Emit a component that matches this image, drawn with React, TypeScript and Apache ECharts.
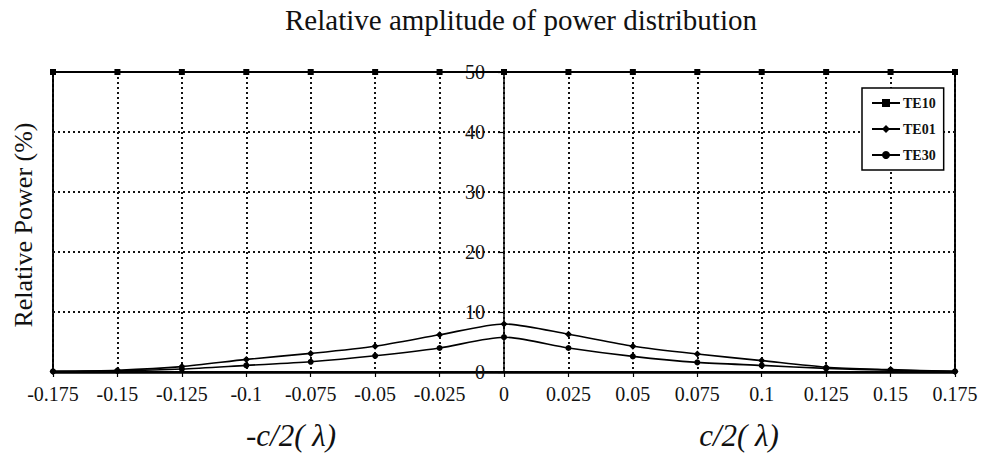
import React, { useEffect, useRef } from "react";
import * as echarts from "echarts";

const xValues = [-0.175, -0.15, -0.125, -0.1, -0.075, -0.05, -0.025, 0, 0.025, 0.05, 0.075, 0.1, 0.125, 0.15, 0.175];
const te10 = [50, 50, 50, 50, 50, 50, 50, 50, 50, 50, 50, 50, 50, 50, 50];
const te01 = [0.1, 0.3, 0.9, 2.1, 3.1, 4.3, 6.2, 8.0, 6.3, 4.3, 3.0, 1.9, 0.8, 0.4, 0.1];
const te30 = [0.1, 0.2, 0.5, 1.1, 1.7, 2.7, 4.0, 5.8, 4.0, 2.6, 1.6, 1.1, 0.6, 0.3, 0.1];
const seriesNames = ["TE10", "TE01", "TE30"];

const SERIF = "'Liberation Serif', 'Times New Roman', serif";

export default function App() {
  const ref = useRef<HTMLDivElement>(null);
  useEffect(() => {
    if (!ref.current) return;
    const chart = echarts.init(ref.current, null, { renderer: "svg" });
    const pair = (ys: number[]) => xValues.map((x, i) => [x, ys[i]]);
    const fmt = (v: number) => {
      const r = Math.round(v * 1000) / 1000;
      return String(r);
    };
    const lineStyle = { color: "#000", width: 1.6 };
    chart.setOption({
      animation: false,
      backgroundColor: "#fff",
      title: {
        text: "Relative amplitude of power distribution",
        left: 280,
        top: 0,
        textStyle: { fontFamily: SERIF, fontSize: 29, fontWeight: "normal", color: "#111" },
      },
      legend: {
        orient: "vertical",
        left: 862,
        top: 88,
        padding: [8, 8, 8, 9],
        itemGap: 12,
        itemWidth: 28,
        itemHeight: 10,
        borderColor: "#000",
        borderWidth: 1.5,
        backgroundColor: "#fff",
        data: seriesNames,
        textStyle: { fontFamily: SERIF, fontSize: 14, fontWeight: "bold", color: "#111", padding: [0, 0, 0, -2] },
      },
      grid: {
        left: 53,
        right: 30,
        top: 72,
        bottom: 81,
        show: true,
        borderColor: "#000",
        borderWidth: 2,
      },
      xAxis: {
        type: "value",
        min: -0.175,
        max: 0.175,
        interval: 0.025,
        axisLine: { show: true, onZero: false, lineStyle: { color: "#000", width: 2.5 } },
        axisTick: { show: true, length: 5, lineStyle: { color: "#000", width: 1.2 } },
        axisLabel: { fontFamily: SERIF, fontSize: 20, color: "#111", margin: 12, formatter: fmt, showMinLabel: true, showMaxLabel: true },
        splitLine: { show: true, lineStyle: { color: "#111", width: 2, type: [2, 3] } },
      },
      yAxis: {
        type: "value",
        min: 0,
        max: 50,
        interval: 10,
        position: "left",
        offset: -451,
        axisLine: { show: true, onZero: false, lineStyle: { color: "#000", width: 1.5 } },
        axisTick: { show: true, length: 6, lineStyle: { color: "#000", width: 1.2 } },
        axisLabel: { fontFamily: SERIF, fontSize: 20, color: "#111", margin: 19 },
        splitLine: { show: true, lineStyle: { color: "#111", width: 2, type: [2, 3] } },
      },
      series: [
        {
          name: "TE10",
          type: "line",
          data: pair(te10),
          symbol: "rect",
          symbolSize: 6,
          itemStyle: { color: "#000" },
          lineStyle: { color: "#000", width: 2.2 },
          z: 5,
        },
        {
          name: "TE01",
          type: "line",
          data: pair(te01),
          symbol: "diamond",
          symbolSize: 7,
          smooth: 0.25,
          itemStyle: { color: "#000" },
          lineStyle,
          z: 5,
        },
        {
          name: "TE30",
          type: "line",
          data: pair(te30),
          symbol: "circle",
          symbolSize: 6,
          smooth: 0.25,
          itemStyle: { color: "#000" },
          lineStyle,
          z: 5,
        },
      ],
      graphic: [
        {
          type: "text",
          x: 23,
          y: 225,
          rotation: Math.PI / 2,
          style: {
            text: "Relative Power (%)",
            fontFamily: SERIF,
            fontSize: 26,
            fill: "#111",
            align: "center",
            verticalAlign: "middle",
          },
        },
        {
          type: "text",
          x: 291,
          y: 435,
          style: {
            text: "-c/2( \u03bb)",
            fontFamily: SERIF,
            fontSize: 31,
            fontStyle: "italic",
            fill: "#111",
            align: "center",
            verticalAlign: "middle",
          },
        },
        {
          type: "text",
          x: 739,
          y: 435,
          style: {
            text: "c/2( \u03bb)",
            fontFamily: SERIF,
            fontSize: 31,
            fontStyle: "italic",
            fill: "#111",
            align: "center",
            verticalAlign: "middle",
          },
        },
      ],
    });
    return () => chart.dispose();
  }, []);
  return (
    <div
      ref={ref}
      style={{ position: "absolute", left: 0, top: 0, width: 985, height: 453, background: "#fff" }}
    />
  );
}
